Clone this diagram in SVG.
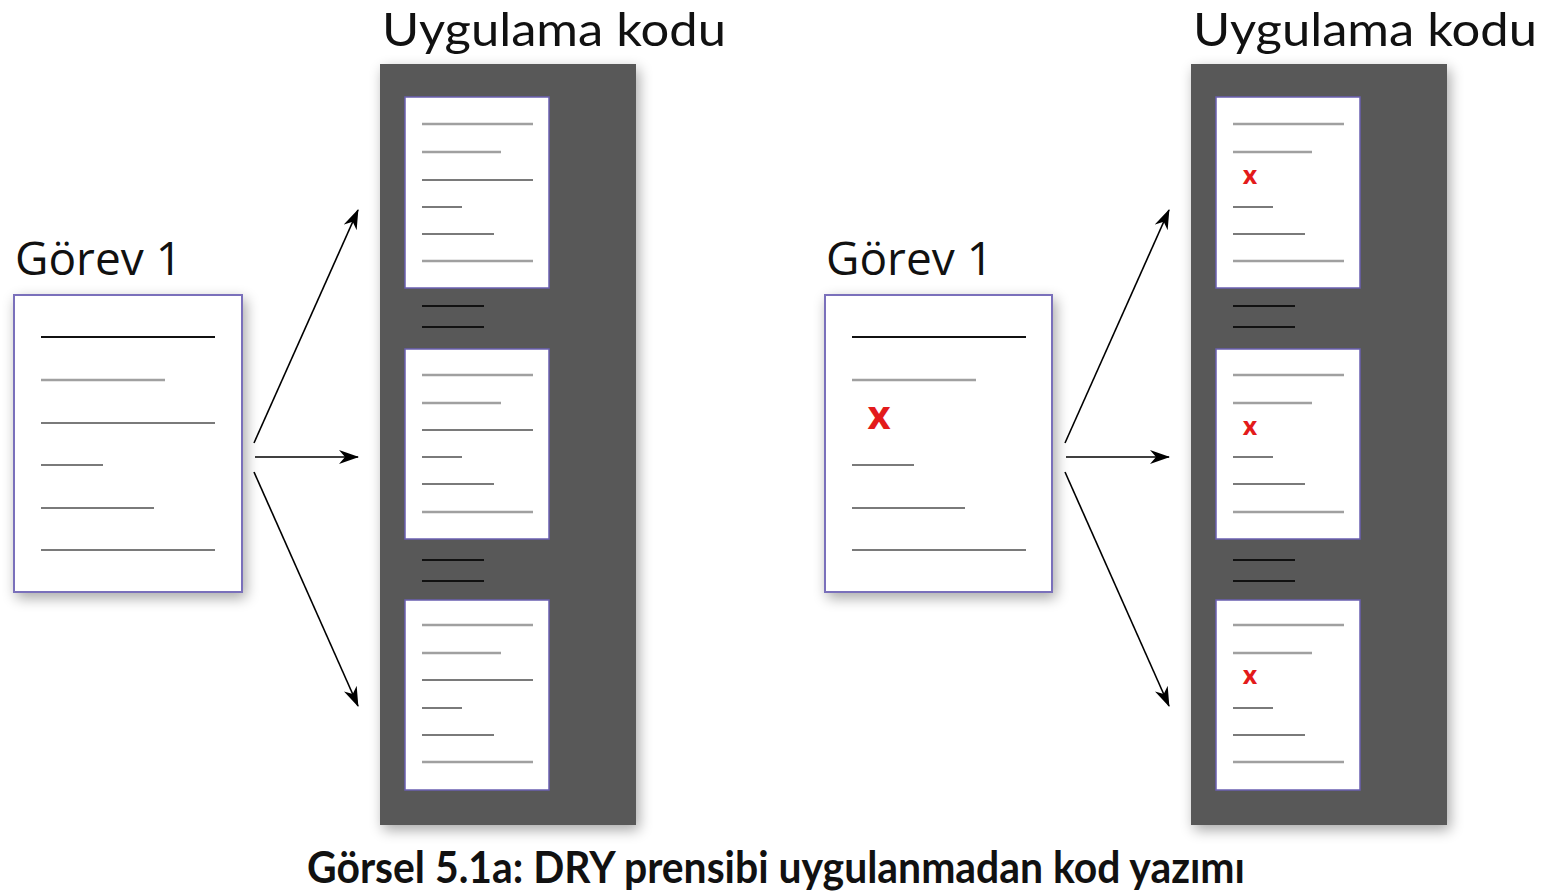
<svg xmlns="http://www.w3.org/2000/svg" width="1545" height="893" viewBox="0 0 1545 893">
<defs>
<filter id="sh" x="-20%" y="-20%" width="140%" height="140%">
<feGaussianBlur in="SourceAlpha" stdDeviation="7"/>
<feOffset dx="3" dy="5" result="b"/>
<feComponentTransfer><feFuncA type="linear" slope="0.35"/></feComponentTransfer>
<feMerge><feMergeNode/><feMergeNode in="SourceGraphic"/></feMerge>
</filter>
<marker id="ah" markerWidth="20" markerHeight="14" refX="19" refY="7" orient="auto" markerUnits="userSpaceOnUse">
<path d="M0,0 L20,7 L0,14 L6,7 Z" fill="#000"/>
</marker>
</defs>
<style>
.lbl{font-family:"Open Sans","Noto Sans",sans-serif;font-size:46px;fill:#111}
.ttl{font-family:Lato,"Open Sans",sans-serif;font-size:46px;fill:#111}
.cap{font-family:Lato,"Open Sans",sans-serif;font-weight:bold;font-size:44px;fill:#111}
.gl{stroke:#a0a0a0;stroke-width:2.5}
.dl{stroke:#7a7a7a;stroke-width:2.2}
.bl{stroke:#111;stroke-width:2.2}
.sep{stroke:#111;stroke-width:2.2}
.panel{fill:#585858}
.gbox{fill:#fff;stroke:#7a70bb;stroke-width:2}
.doc{fill:#fff;stroke:#6a5fb0;stroke-width:1.5}
.arr{stroke:#000;stroke-width:1.6;fill:none;marker-end:url(#ah)}
.rx{font-family:"Open Sans","Noto Sans",sans-serif;font-weight:bold;fill:#e31b1b;text-anchor:middle}
</style>

<!-- LEFT -->
<g id="left-task">
<text class="lbl" x="15" y="275">Görev 1</text>
<rect class="gbox" x="14" y="295" width="228" height="297" filter="url(#sh)"/>
<line class="bl" x1="41" y1="337" x2="215" y2="337"/>
<line class="gl" x1="41" y1="380" x2="165" y2="380"/>
<line class="dl" x1="41" y1="423" x2="215" y2="423"/>
<line class="dl" x1="41" y1="465" x2="103" y2="465"/>
<line class="dl" x1="41" y1="508" x2="154" y2="508"/>
<line class="dl" x1="41" y1="550" x2="215" y2="550"/>
</g>
<g id="left-code">
<text class="ttl" x="382" y="46" textLength="344" lengthAdjust="spacingAndGlyphs">Uygulama kodu</text>
<rect class="panel" x="380" y="64" width="256" height="761" filter="url(#sh)"/>
<g transform="translate(405,97)">
<rect class="doc" x="0" y="0" width="144" height="191"/>
<line class="gl" x1="17" y1="27" x2="128" y2="27"/>
<line class="gl" x1="17" y1="55" x2="96" y2="55"/>
<line class="dl" x1="17" y1="83" x2="128" y2="83"/>
<line class="dl" x1="17" y1="110" x2="57" y2="110"/>
<line class="dl" x1="17" y1="137" x2="89" y2="137"/>
<line class="gl" x1="17" y1="164" x2="128" y2="164"/>
</g>
<line class="sep" x1="422" y1="306" x2="484" y2="306"/>
<line class="sep" x1="422" y1="327" x2="484" y2="327"/>
<g transform="translate(405,349)">
<rect class="doc" x="0" y="0" width="144" height="190"/>
<line class="gl" x1="17" y1="26" x2="128" y2="26"/>
<line class="gl" x1="17" y1="54" x2="96" y2="54"/>
<line class="dl" x1="17" y1="81" x2="128" y2="81"/>
<line class="dl" x1="17" y1="108" x2="57" y2="108"/>
<line class="dl" x1="17" y1="135" x2="89" y2="135"/>
<line class="gl" x1="17" y1="163" x2="128" y2="163"/>
</g>
<line class="sep" x1="422" y1="560" x2="484" y2="560"/>
<line class="sep" x1="422" y1="581" x2="484" y2="581"/>
<g transform="translate(405,600)">
<rect class="doc" x="0" y="0" width="144" height="190"/>
<line class="gl" x1="17" y1="25" x2="128" y2="25"/>
<line class="gl" x1="17" y1="53" x2="96" y2="53"/>
<line class="dl" x1="17" y1="80" x2="128" y2="80"/>
<line class="dl" x1="17" y1="108" x2="57" y2="108"/>
<line class="dl" x1="17" y1="135" x2="89" y2="135"/>
<line class="gl" x1="17" y1="162" x2="128" y2="162"/>
</g>
</g>

<!-- RIGHT -->
<g id="right-task">
<text class="lbl" x="826" y="275">Görev 1</text>
<rect class="gbox" x="825" y="295" width="227" height="297" filter="url(#sh)"/>
<line class="bl" x1="852" y1="337" x2="1026" y2="337"/>
<line class="gl" x1="852" y1="380" x2="976" y2="380"/>
<text class="rx" x="879" y="429" font-size="40">x</text>
<line class="dl" x1="852" y1="465" x2="914" y2="465"/>
<line class="dl" x1="852" y1="508" x2="965" y2="508"/>
<line class="dl" x1="852" y1="550" x2="1026" y2="550"/>
</g>
<g id="right-code">
<text class="ttl" x="1193" y="46" textLength="344" lengthAdjust="spacingAndGlyphs">Uygulama kodu</text>
<rect class="panel" x="1191" y="64" width="256" height="761" filter="url(#sh)"/>
<g transform="translate(1216,97)">
<rect class="doc" x="0" y="0" width="144" height="191"/>
<line class="gl" x1="17" y1="27" x2="128" y2="27"/>
<line class="gl" x1="17" y1="55" x2="96" y2="55"/>
<text class="rx" x="34" y="87" font-size="25">x</text>
<line class="dl" x1="17" y1="110" x2="57" y2="110"/>
<line class="dl" x1="17" y1="137" x2="89" y2="137"/>
<line class="gl" x1="17" y1="164" x2="128" y2="164"/>
</g>
<line class="sep" x1="1233" y1="306" x2="1295" y2="306"/>
<line class="sep" x1="1233" y1="327" x2="1295" y2="327"/>
<g transform="translate(1216,349)">
<rect class="doc" x="0" y="0" width="144" height="190"/>
<line class="gl" x1="17" y1="26" x2="128" y2="26"/>
<line class="gl" x1="17" y1="54" x2="96" y2="54"/>
<text class="rx" x="34" y="86" font-size="25">x</text>
<line class="dl" x1="17" y1="108" x2="57" y2="108"/>
<line class="dl" x1="17" y1="135" x2="89" y2="135"/>
<line class="gl" x1="17" y1="163" x2="128" y2="163"/>
</g>
<line class="sep" x1="1233" y1="560" x2="1295" y2="560"/>
<line class="sep" x1="1233" y1="581" x2="1295" y2="581"/>
<g transform="translate(1216,600)">
<rect class="doc" x="0" y="0" width="144" height="190"/>
<line class="gl" x1="17" y1="25" x2="128" y2="25"/>
<line class="gl" x1="17" y1="53" x2="96" y2="53"/>
<text class="rx" x="34" y="84" font-size="25">x</text>
<line class="dl" x1="17" y1="108" x2="57" y2="108"/>
<line class="dl" x1="17" y1="135" x2="89" y2="135"/>
<line class="gl" x1="17" y1="162" x2="128" y2="162"/>
</g>
</g>

<g id="connectors">
<line class="arr" x1="254" y1="443" x2="358" y2="210"/>
<line class="arr" x1="255" y1="457" x2="358" y2="457"/>
<line class="arr" x1="254" y1="472" x2="358" y2="706"/>
<line class="arr" x1="1065" y1="443" x2="1169" y2="210"/>
<line class="arr" x1="1066" y1="457" x2="1169" y2="457"/>
<line class="arr" x1="1065" y1="472" x2="1169" y2="706"/>
</g>

<text class="cap" x="307" y="883" textLength="938" lengthAdjust="spacingAndGlyphs">Görsel 5.1a: DRY prensibi uygulanmadan kod yazımı</text>
</svg>
